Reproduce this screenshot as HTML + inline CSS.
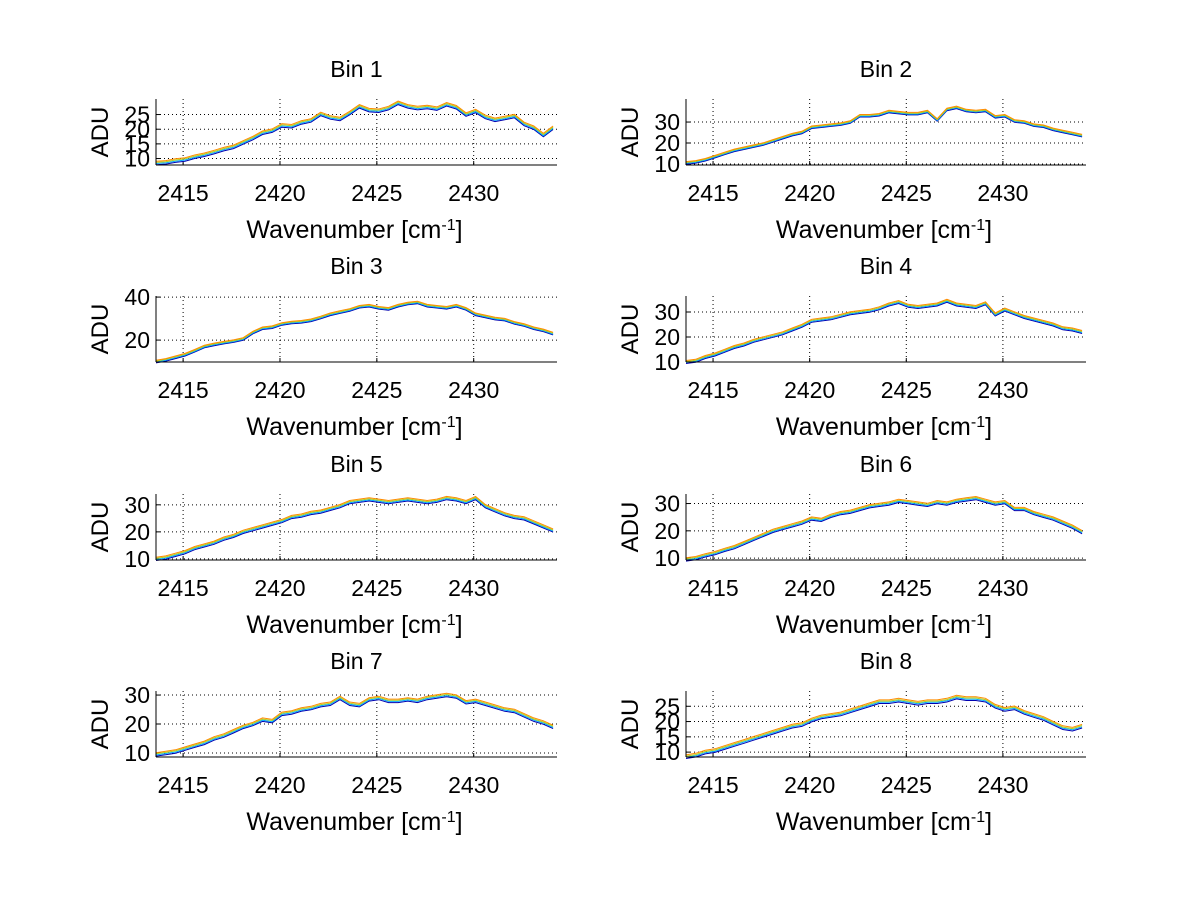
<!DOCTYPE html>
<html><head><meta charset="utf-8"><style>
body{margin:0;background:#fff;}
svg{display:block;font-family:"Liberation Sans",sans-serif;}
</style></head><body>
<svg id="chart" width="1200" height="901" viewBox="0 0 1200 901"></svg>
<script>
const xGrid = [2413.6,2414.1,2414.6,2415.1,2415.6,2416.1,2416.6,2417.1,2417.6,2418.1,2418.6,2419.1,2419.6,2420.1,2420.6,2421.1,2421.6,2422.1,2422.6,2423.1,2423.6,2424.1,2424.6,2425.1,2425.6,2426.1,2426.6,2427.1,2427.6,2428.1,2428.6,2429.1,2429.6,2430.1,2430.6,2431.1,2431.6,2432.1,2432.6,2433.1,2433.6,2434.1];
const xTicks = [2415,2420,2425,2430];
const xRange = [2413.6,2434.3];
const bin1 = [8.5,8.7,9.3,9.7,10.6,11.3,12.2,13.2,14.0,15.5,17.0,18.8,19.5,21.3,21.0,22.3,23.0,25.2,24.0,23.5,25.5,27.8,26.5,26.3,27.2,29.0,27.8,27.2,27.6,27.0,28.5,27.5,25.0,26.2,24.2,23.2,23.8,24.5,21.8,20.5,18.0,20.5];
const bin2 = [10.5,11,12,13.5,15,16.5,17.5,18.5,19.5,21,22.5,24,25,27.5,28,28.5,29,30,33,33,33.5,35,34.5,34,34,35,31,36,37,35.5,35,35.5,32.5,33,30.5,30,28.5,28,26.5,25.5,24.5,23.5];
const bin3 = [10,10.8,12,13.2,15,17,18,18.8,19.5,20.5,23.5,25.5,26,27.5,28.2,28.5,29.2,30.5,32,33,34,35.5,36,35,34.5,36,37,37.5,36,35.5,35,36,34.5,32,31,30,29.5,28,27,25.5,24.5,23];
const bin4 = [10,10.5,12,13,14.5,16,17,18.5,19.5,20.5,21.5,23,24.5,26.5,27,27.5,28.5,29.5,30,30.5,31.5,33,34,32.5,32,32.5,33,34.5,33,32.5,32,33.5,29,31,29.5,28,27,26,25,23.5,23,22];
const bin5 = [10,10.5,11.5,12.5,14,15,16,17.5,18.5,20,21,22,23,24,25.5,26,27,27.5,28.5,29.5,31,31.5,32,31.5,31,31.5,32,31.5,31,31.5,32.5,32,31,32.5,29.5,28,26.5,25.5,25,23.5,22,20.5];
const bin6 = [9.5,10,11,11.8,13,14,15.5,17,18.5,20,21,22,23,24.5,24,25.5,26.5,27,28,29,29.5,30,31,30.5,30,29.5,30.5,30,31,31.5,32,31,30,30.5,28,28,26.5,25.5,24.5,23,21.5,19.5];
const bin7 = [9.5,10,10.5,11.5,12.5,13.5,15,16,17.5,19,20,21.5,21,23.5,24,25,25.5,26.5,27,29,27,26.5,28.5,29,28,28,28.5,28,29,29.5,30,29.5,27.5,28,27,26,25,24.5,23,21.5,20.5,19];
const bin8 = [8.5,9,10,10.5,11.5,12.5,13.5,14.5,15.5,16.5,17.5,18.5,19,20.5,21.5,22,22.5,23.5,24.5,25.5,26.5,26.5,27,26.5,26,26.5,26.5,27,28,27.5,27.5,27,25,24,24.5,23,22,21,19.5,18,17.5,18.5];
const seriesOffsets = [-0.6,-0.2,0.2,0.6];
const yTicks1 = [10,15,20,25], yTicks2=[10,20,30], yTicks3=[20,40], yTicks4=[10,20,30], yTicks5=[10,20,30], yTicks6=[10,20,30], yTicks7=[10,20,30], yTicks8=[10,15,20,25];
const yRanges = [[7.8,30.3],[9.5,41],[9.8,40.5],[10,36.4],[9.6,34],[9.3,33.5],[8.6,31.4],[8.4,30]];

const colors=['#0000b0','#00a8ff','#b0d020','#ff8c00'];
const svg=document.getElementById('chart');
const NS='http://www.w3.org/2000/svg';
function mk(tag,attrs,parent){const e=document.createElementNS(NS,tag);for(const k in attrs)e.setAttribute(k,attrs[k]);(parent||svg).appendChild(e);return e;}
const bins=[bin1,bin2,bin3,bin4,bin5,bin6,bin7,bin8];
const ticksAll=[yTicks1,yTicks2,yTicks3,yTicks4,yTicks5,yTicks6,yTicks7,yTicks8];
const colX=[[156,557],[686,1086]];
const rowY=[[99,165],[296,362],[494,560],[691,757]];
bins.forEach((data,i)=>{
  const [L,R]=colX[i%2],[T,B]=rowY[Math.floor(i/2)];
  const [y0,y1]=yRanges[i];
  const sx=v=>L+(v-xRange[0])/(xRange[1]-xRange[0])*(R-L);
  const sy=v=>B-(v-y0)/(y1-y0)*(B-T);
  const g=mk('g',{});
  
  
  xTicks.forEach(t=>{const x=sx(t);
    const gl=mk('line',{x1:x,x2:x,y1:T,y2:B,stroke:'#000','stroke-width':1,'stroke-dasharray':'1,3'},g);
    
    mk('line',{x1:x,x2:x,y1:B,y2:B-4,stroke:'#000'},g);
    const tl=mk('text',{x:x,y:B+36,'font-size':23,'text-anchor':'middle'},g);tl.textContent=t;
    
  });
  ticksAll[i].forEach(t=>{const y=sy(t);
    const gl=mk('line',{x1:L,x2:R,y1:y,y2:y,stroke:'#000','stroke-width':1,'stroke-dasharray':'1,3'},g);
    
    mk('line',{x1:L,x2:L+4,y1:y,y2:y,stroke:'#000'},g);
    const tl=mk('text',{x:L-6,y:y+8,'font-size':23,'text-anchor':'end'},g);tl.textContent=t;
    
  });
  seriesOffsets.forEach((o,k)=>{
    const d=data.map((v,j)=>(j?'L':'M')+sx(xGrid[j]).toFixed(1)+','+sy(v+o).toFixed(1)).join('');
    const p=mk('path',{d:d,fill:'none',stroke:colors[k],'stroke-width':1},g);
    
    
  });
  mk('line',{x1:L,x2:L,y1:T,y2:B,stroke:'#000'},g);
  mk('line',{x1:L,x2:R,y1:B,y2:B,stroke:'#000'},g);
  const ti=mk('text',{x:(L+R)/2,y:T-22,'font-size':23,'text-anchor':'middle'},g);ti.textContent='Bin '+(i+1);
  
  const xl=mk('text',{x:(L+R)/2-2,y:B+73,'font-size':25,'text-anchor':'middle'},g);
  xl.innerHTML='Wavenumber [cm<tspan baseline-shift="super" font-size="16">-1</tspan>]';
  
  const yl=mk('text',{x:0,y:0,'font-size':24,'text-anchor':'middle',transform:`translate(${L-48},${(T+B)/2}) rotate(-90)`},g);
  yl.textContent='ADU';
  
});
</script>
</body></html>
